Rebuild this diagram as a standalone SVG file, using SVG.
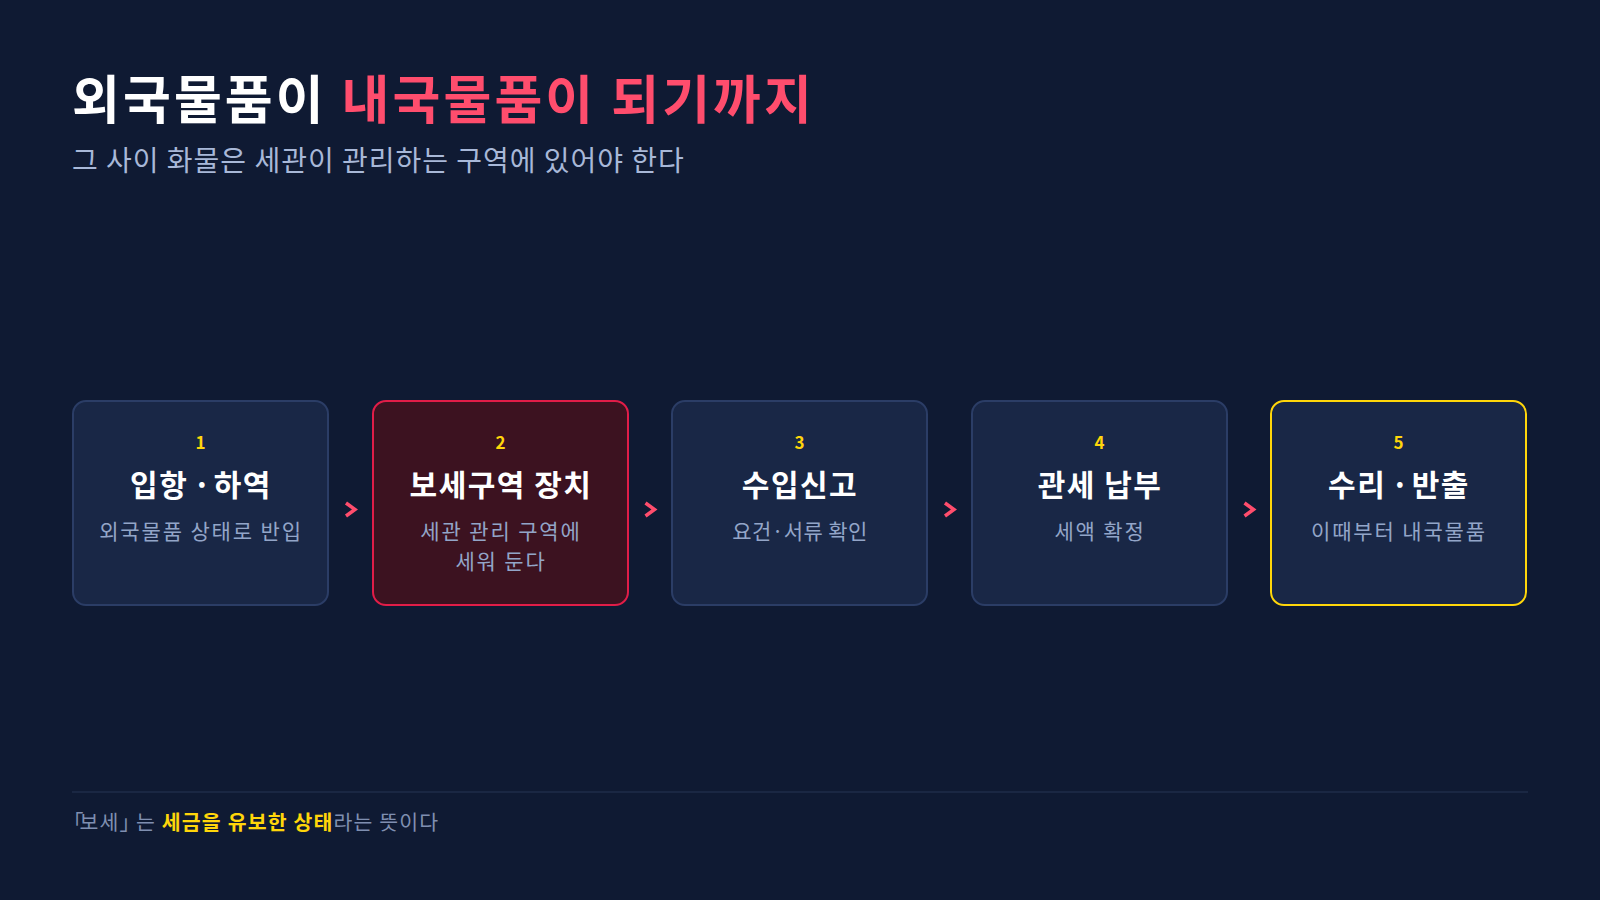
<svg xmlns="http://www.w3.org/2000/svg" width="1600" height="900" viewBox="0 0 1600 900">
  <defs>
    <style>
      .t { font-family: "Noto Sans CJK KR", "Noto Sans", sans-serif; }
      .card { fill: #192746; stroke: #2b3d66; stroke-width: 2; }
      .card-hot { fill: #3c1220; stroke: #e11d48; stroke-width: 2; }
      .card-end { fill: #192746; stroke: #ffd60a; stroke-width: 2; }
      .num { font-size: 17px; font-weight: 700; fill: #ffd60a; text-anchor: middle; }
      .ttl { font-size: 30px; font-weight: 700; fill: #ffffff; text-anchor: middle; letter-spacing: 1.5px; }
      .desc { font-size: 21px; font-weight: 400; fill: #93a5c8; text-anchor: middle; letter-spacing: 1.85px; }
      .dot { letter-spacing: -2px; }
      .br { letter-spacing: -4px; }
      .chev { fill: none; stroke: #ff4d6d; stroke-width: 3.5; stroke-linejoin: miter; stroke-linecap: butt; }
    </style>
  </defs>
  <rect width="1600" height="900" fill="#0f1a33"/>

  <g id="header">
    <text class="t" x="72" y="119" font-size="52" font-weight="700" fill="#ffffff" letter-spacing="3.1">외국물품이 <tspan fill="#ff4d6d">내국물품이 되기까지</tspan></text>
    <text class="t" x="72" y="171" font-size="28" font-weight="400" fill="#a8b8d8" letter-spacing="1">그 사이 화물은 세관이 관리하는 구역에 있어야 한다</text>
  </g>

  <g id="node1">
    <rect class="card" x="73" y="401" width="255" height="204" rx="13"/>
    <text class="t num" x="200.5" y="449">1</text>
    <text class="t ttl" x="201" y="496">입항<tspan class="dot"> · </tspan>하역</text>
    <text class="t desc" x="201" y="539">외국물품 상태로 반입</text>
  </g>
  <g id="node2">
    <rect class="card-hot" x="373" y="401" width="255" height="204" rx="13"/>
    <text class="t num" x="500.5" y="449">2</text>
    <text class="t ttl" x="501" y="496">보세구역 장치</text>
    <text class="t desc" x="501" y="539">세관 관리 구역에</text>
    <text class="t desc" x="501" y="569">세워 둔다</text>
  </g>
  <g id="node3">
    <rect class="card" x="672" y="401" width="255" height="204" rx="13"/>
    <text class="t num" x="799.5" y="449">3</text>
    <text class="t ttl" x="800" y="496">수입신고</text>
    <text class="t desc" x="800" y="539" style="letter-spacing:0.4px">요건·서류 확인</text>
  </g>
  <g id="node4">
    <rect class="card" x="972" y="401" width="255" height="204" rx="13"/>
    <text class="t num" x="1099.5" y="449">4</text>
    <text class="t ttl" x="1100" y="496">관세 납부</text>
    <text class="t desc" x="1100" y="539">세액 확정</text>
  </g>
  <g id="node5">
    <rect class="card-end" x="1271" y="401" width="255" height="204" rx="13"/>
    <text class="t num" x="1398.5" y="449">5</text>
    <text class="t ttl" x="1399" y="496">수리<tspan class="dot"> · </tspan>반출</text>
    <text class="t desc" x="1399" y="539">이때부터 내국물품</text>
  </g>

  <g id="connectors">
    <path class="chev" d="M346 503 L355 509.5 L346 516"/>
    <path class="chev" d="M645.5 503 L654.5 509.5 L645.5 516"/>
    <path class="chev" d="M945 503 L954 509.5 L945 516"/>
    <path class="chev" d="M1244.5 503 L1253.5 509.5 L1244.5 516"/>
  </g>

  <g id="footer">
    <line x1="72" y1="792" x2="1528" y2="792" stroke="#1f2c4a" stroke-width="1.5"/>
    <text class="t" x="63" y="830" font-size="20.5" fill="#7f8fb0" letter-spacing="1.15"><tspan class="br">「</tspan>보세<tspan class="br">」</tspan>는 <tspan font-weight="700" fill="#ffd60a">세금을 유보한 상태</tspan>라는 뜻이다</text>
  </g>
</svg>
